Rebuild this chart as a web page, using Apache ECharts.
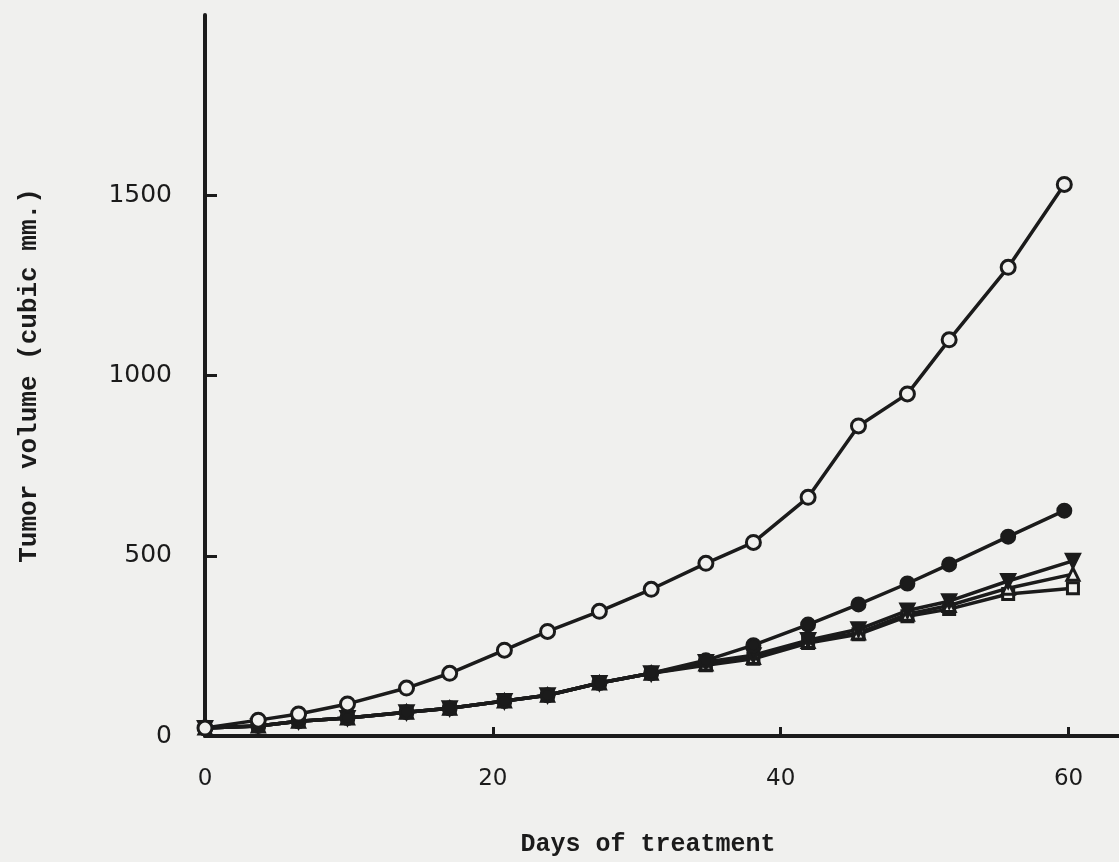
<!DOCTYPE html>
<html>
<head>
<meta charset="utf-8">
<script src="https://cdn.jsdelivr.net/npm/echarts@6/dist/echarts.min.js"></script>
<style>
html,body{margin:0;padding:0;background:#f0f0ee;}
#c{width:1119px;height:862px;}
</style>
</head>
<body>
<div id="c"></div>
<script>
// Days of treatment (x values)
var days = [0, 3.7, 6.5, 9.9, 14, 17, 20.8, 23.8, 27.4, 31, 34.8, 38.1, 41.9, 45.4, 48.8, 51.7, 55.8, 59.7];
var daysEnd = [0, 3.7, 6.5, 9.9, 14, 17, 20.8, 23.8, 27.4, 31, 34.8, 38.1, 41.9, 45.4, 48.8, 51.7, 55.8, 60.3];
// Tumor volume (cubic mm.)
var openCircle   = [22, 44, 61, 89, 133, 174, 238, 290, 346, 407, 479, 537, 662, 860, 949, 1099, 1300, 1530];
var filledCircle = [22, 28, 41, 50, 66, 77, 97, 113, 147, 174, 210, 252, 309, 365, 423, 476, 553, 625];
var invTriangle  = [22, 28, 41, 50, 66, 77, 97, 113, 147, 174, 205, 224, 266, 296, 348, 374, 430, 486];
var openTriangle = [22, 28, 41, 50, 66, 77, 97, 113, 147, 174, 200, 218, 262, 286, 338, 362, 410, 449];
var openSquare   = [22, 28, 41, 50, 66, 77, 97, 113, 147, 174, 196, 214, 258, 282, 332, 352, 394, 410];
var xTicks = [0, 20, 40, 60];
var yTicks = [0, 500, 1000, 1500];

function pairs(xs, ys){ return ys.map(function(v,i){ return [xs[i], v]; }); }

var INK = '#1b1b1b';
var PAPER = '#f0f0ee';
var chart = echarts.init(document.getElementById('c'), null, {renderer:'canvas'});

function mk(name, xs, ys, symbol, size, fill, rot){
  return {
    name: name, type: 'line', data: pairs(xs, ys),
    symbol: symbol, symbolSize: size, symbolRotate: rot || 0,
    showAllSymbol: true,
    lineStyle: {color: INK, width: 3.5},
    itemStyle: {color: fill, borderColor: INK, borderWidth: 3},
    emphasis: {disabled: true},
    animation: false, z: 3
  };
}

chart.setOption({
  backgroundColor: PAPER,
  animation: false,
  grid: {left: 205, right: 0, top: 15, bottom: 124, containLabel: false},
  xAxis: {
    type: 'value', min: 0, max: 63.5,
    name: 'Days of treatment', nameLocation: 'middle', nameGap: 96,
    nameTextStyle: {fontFamily: 'Liberation Mono', fontWeight: 'bold', fontSize: 25, color: INK, padding: [0, 28, 0, 0]},
    axisLine: {show: true, lineStyle: {color: INK, width: 4}},
    axisTick: {show: true, inside: true, length: 9, lineStyle: {color: INK, width: 3}, customValues: [20, 40, 60]},
    axisLabel: {customValues: xTicks, margin: 32, fontFamily: 'DejaVu Sans', fontSize: 23, color: INK,
      formatter: function(v){ return String(v); }},
    splitLine: {show: false}
  },
  yAxis: {
    type: 'value', min: 0, max: 2000,
    name: 'Tumor volume (cubic mm.)', nameLocation: 'middle', nameGap: 163, nameRotate: 90,
    nameTextStyle: {fontFamily: 'Liberation Mono', fontWeight: 'bold', fontSize: 26, color: INK},
    axisLine: {show: true, lineStyle: {color: INK, width: 4}},
    axisTick: {show: true, inside: true, length: 12, lineStyle: {color: INK, width: 3}, customValues: [500, 1000, 1500]},
    axisLabel: {customValues: yTicks, margin: 33, fontFamily: 'DejaVu Sans', fontSize: 25, color: INK,
      formatter: function(v){ return String(v); }},
    splitLine: {show: false}
  },
  series: [
    mk('open square', daysEnd, openSquare, 'rect', 11, PAPER, 0),
    mk('open triangle', daysEnd, openTriangle, 'triangle', 12, PAPER, 0),
    mk('filled inverted triangle', daysEnd, invTriangle, 'triangle', 13, INK, 180),
    mk('filled circle', days, filledCircle, 'circle', 13, INK, 0),
    mk('open circle', days, openCircle, 'circle', 14, PAPER, 0)
  ]
});
</script>
</body>
</html>
